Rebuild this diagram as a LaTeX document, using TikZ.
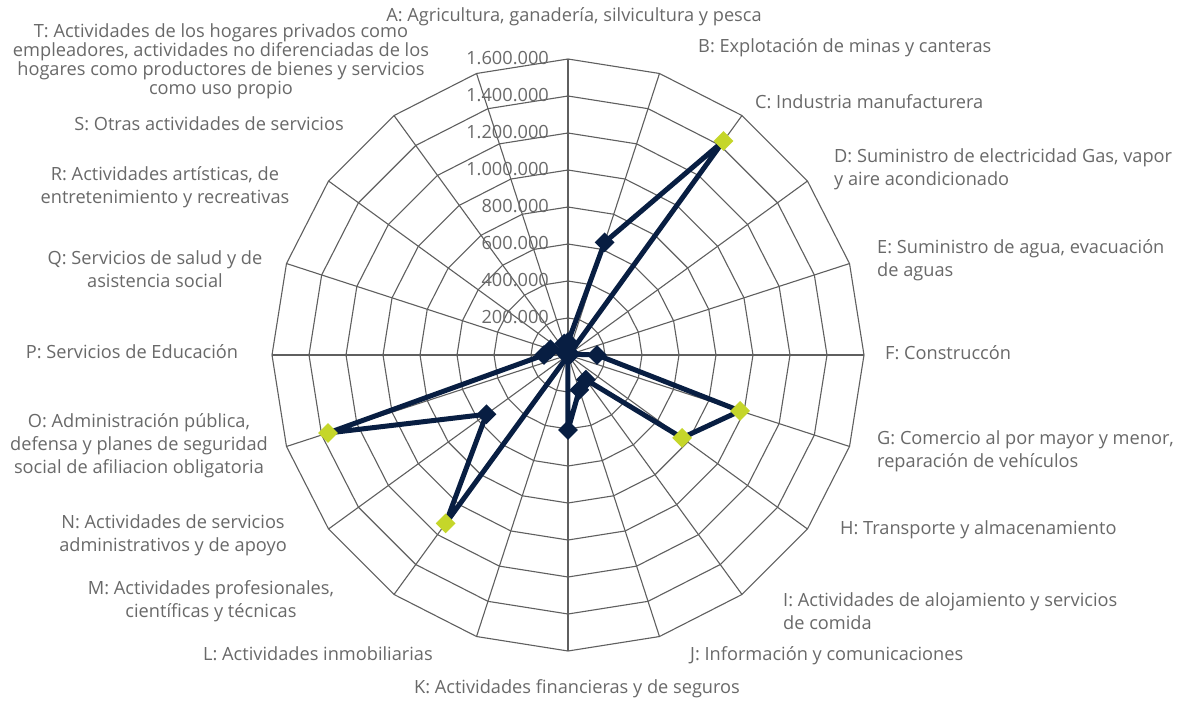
\documentclass[tikz,border=0pt]{standalone}
\usepackage{fontspec}
\setmainfont{Open Sans}
\usetikzlibrary{shapes.geometric}
\definecolor{navy}{RGB}{8,30,66}
\definecolor{lime}{RGB}{197,214,42}
\definecolor{gridc}{RGB}{95,95,95}
\definecolor{txt}{RGB}{105,105,105}
\begin{document}
\begin{tikzpicture}[x=1pt,y=-1pt,
  lbl/.style={font=\fontsize{18.2}{23}\selectfont, text=txt, inner sep=0pt},
  gridline/.style={draw=gridc, line width=1.1pt},
  dataline/.style={draw=navy, line width=5pt, line join=round},
  mk/.style={diamond, fill=navy, minimum width=20pt, minimum height=20pt, inner sep=0pt},
  mkhi/.style={mk, fill=lime}]
\useasboundingbox[fill=white] (0,0) rectangle (1181,702);
\begin{scope}[shift={(568,355)}]
  % rings
  \foreach \k in {1,...,8} {
    \pgfmathsetmacro{\rr}{37*\k}
    \draw[gridline] (-90:\rr) \foreach \i in {1,...,19} { -- ({-90+18*\i}:\rr) } -- cycle;
  }
  % spokes
  \foreach \i in {0,...,19} \draw[gridline] (0,0) -- ({-90+18*\i}:296);
  % data
  \foreach \i/\v in {0/70,1/640,2/1430,3/10,4/15,5/157,6/978,7/762,8/165,9/198,10/405,11/5,12/1125,13/545,14/1364,15/130,16/100,17/20,18/20,19/65}
    \coordinate (d\i) at ({-90+18*\i}:{\v*0.185});
  \draw[dataline] (d0) -- (d1) -- (d2) -- (d3) -- (d4) -- (d5) -- (d6) -- (d7) -- (d8) -- (d9) -- (d10) -- (d11) -- (d12) -- (d13) -- (d14) -- (d15) -- (d16) -- (d17) -- (d18) -- (d19) -- cycle;
  \foreach \i in {0,1,3,4,5,8,9,10,11,13,15,16,17,18,19} \node[mk] (m\i) at (d\i) {};
  \foreach \i in {2,6,7,12,14} \node[mkhi] (m\i) at (d\i) {};
\end{scope}
% axis values
\foreach \k/\t in {1/200.000,2/400.000,3/600.000,4/800.000,5/1.000.000,6/1.200.000,7/1.400.000,8/1.600.000}
  \node[lbl, anchor=east] (n\k) at (549, {355-37*\k-1}) {\t};
% category labels
\node[lbl, anchor=center] (lA) at (574,17) {A: Agricultura, ganadería, silvicultura y pesca};
\node[lbl, anchor=west] (lB) at (698,48) {B: Explotación de minas y canteras};
\node[lbl, anchor=west] (lC) at (755,102) {C: Industria manufacturera};
\node[lbl, anchor=west, align=left] (lD) at (834,169.5) {D: Suministro de electricidad Gas, vapor\\y aire acondicionado};
\node[lbl, anchor=west, align=left] (lE) at (877,260.5) {E: Suministro de agua, evacuación\\de aguas};
\node[lbl, anchor=west] (lF) at (885,353) {F: Construccón};
\node[lbl, anchor=west, align=left] (lG) at (877,451.5) {G: Comercio al por mayor y menor,\\reparación de vehículos};
\node[lbl, anchor=west] (lH) at (840,530) {H: Transporte y almacenamiento};
\node[lbl, anchor=west, align=left] (lI) at (783,611.5) {I: Actividades de alojamiento y servicios\\de comida};
\node[lbl, anchor=west] (lJ) at (690,656) {J: Información y comunicaciones};
\node[lbl, anchor=center] (lK) at (577,689) {K: Actividades financieras y de seguros};
\node[lbl, anchor=east] (lL) at (433,654) {L: Actividades inmobiliarias};
\node[lbl, align=center] (lM) at (211,601) {M: Actividades profesionales,\\científicas y técnicas};
\node[lbl, align=center] (lN) at (173,535.5) {N: Actividades de servicios\\administrativos y de apoyo};
\node[lbl, align=center] (lO) at (139,445.5) {O: Administración pública,\\defensa y planes de seguridad\\social de afiliacion obligatoria};
\node[lbl] (lP) at (132,352) {P: Servicios de Educación};
\node[lbl, align=center] (lQ) at (155,269.5) {Q: Servicios de salud y de\\asistencia social};
\node[lbl, align=center] (lR) at (165,187.5) {R: Actividades artísticas, de\\entretenimiento y recreativas};
\node[lbl] (lS) at (209,124) {S: Otras actividades de servicios};
\node[lbl, align=center, font=\fontsize{18.2}{17}\selectfont] (lT) at (221,61) {T: Actividades de los hogares privados como\\empleadores, actividades no diferenciadas de los\\hogares como productores de bienes y servicios\\como uso propio};
\end{tikzpicture}
\end{document}
